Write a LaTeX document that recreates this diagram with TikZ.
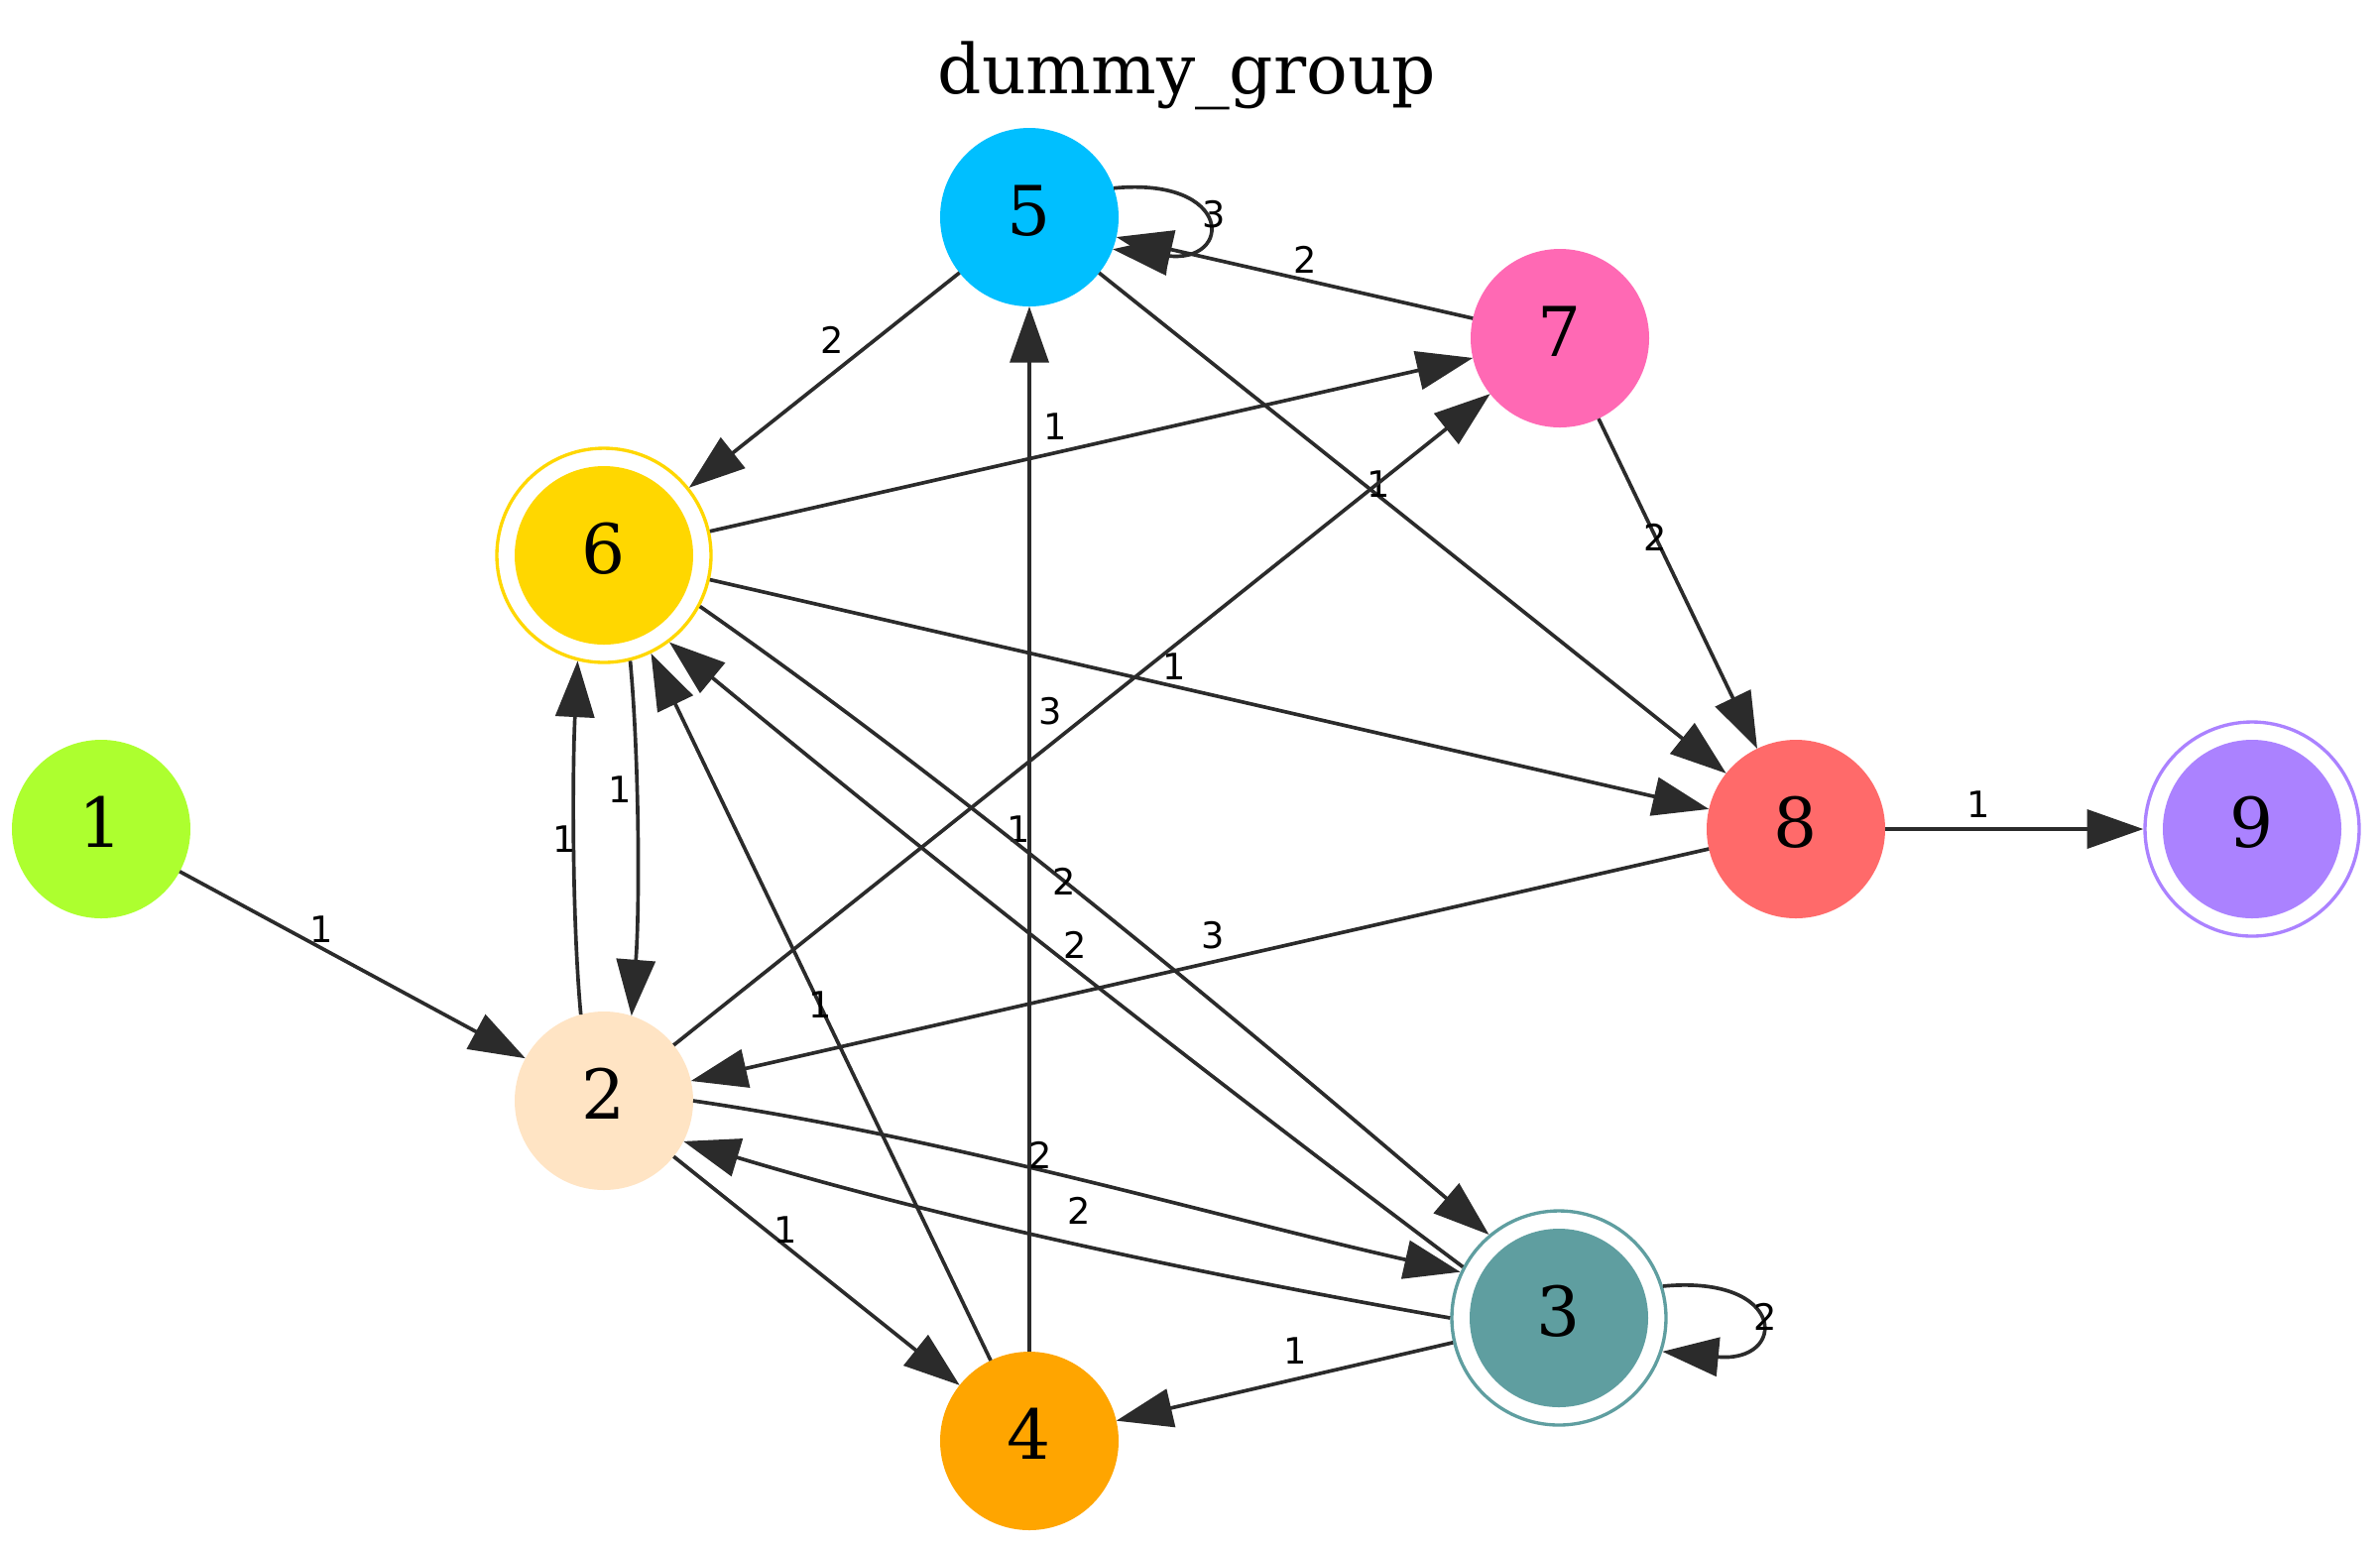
\documentclass[tikz,border=0pt]{standalone}
\usepackage{fontspec}
\setmainfont{DejaVu Serif}
\newfontfamily\lblfont{DejaVu Sans}
\usetikzlibrary{arrows.meta}
\definecolor{cA}{HTML}{ADFF2F}
\definecolor{cB}{HTML}{FFE4C4}
\definecolor{cC}{HTML}{5F9EA0}
\definecolor{cD}{HTML}{FFA500}
\definecolor{cE}{HTML}{00BFFF}
\definecolor{cF}{HTML}{FFD700}
\definecolor{cG}{HTML}{FF69B4}
\definecolor{cH}{HTML}{FF6A6A}
\definecolor{cI}{HTML}{AB82FF}
\definecolor{edgec}{HTML}{2B2B2B}
\begin{document}
\begin{tikzpicture}[x=0.3pt,y=-0.3pt,
  vtx/.style={circle, minimum size=54pt, inner sep=0pt, outer sep=0pt, fill=#1,
    font=\fontsize{20.8}{25}\selectfont, text depth=4.2pt},
  dbl/.style={circle, minimum size=64.8pt, inner sep=0pt, outer sep=0.5pt, draw=#1,
    line width=1pt, fill=white, font=\fontsize{20.8}{25}\selectfont, text depth=4.2pt,
    path picture={\fill[#1] (path picture bounding box.center) circle[radius=27pt];}},
  conn/.style={draw=edgec, line width=1.1pt, -{Triangle[length=17pt,width=11.7pt]}},
  lbl/.style={font=\lblfont\fontsize{11}{13}\selectfont, inner sep=0pt, text=black}
]
\useasboundingbox (0,0) rectangle (2400,1561);

\node[font=\fontsize{20.8}{25}\selectfont, anchor=base] (title) at (1197,94) {dummy\_group};

\node[vtx=cA] (n1) at (102,836) {1};
\node[vtx=cB] (n2) at (609,1110) {2};
\node[dbl=cC] (n3) at (1572,1329) {3};
\node[vtx=cD] (n4) at (1038,1453) {4};
\node[vtx=cE] (n5) at (1038,219) {5};
\node[dbl=cF] (n6) at (609,560) {6};
\node[vtx=cG] (n7) at (1573,341) {7};
\node[vtx=cH] (n8) at (1811,836) {8};
\node[dbl=cI] (n9) at (2271,836) {9};

\draw[conn] (n1) -- (n2) node[lbl,at={(324,937)}]{1};
\draw[conn] (n2.105) .. controls (577,930) and (577,780) .. (n6.-104) node[lbl,at={(569,846)}]{1};
\draw[conn] (n6.-76) .. controls (645,770) and (645,920) .. (n2.72) node[lbl,at={(625,796)}]{1};
\draw[conn] (n5) -- (n6) node[lbl,at={(839,343)}]{2};
\draw[conn] (n5.19) .. controls (1244,178) and (1244,266) .. (n5.-21) node[lbl,at={(1224,216)}]{3};
\draw[conn] (n7) -- (n5) node[lbl,at={(1316,262)}]{2};
\draw[conn] (n6) -- (n7) node[lbl,at={(1064,430)}]{1};
\draw[conn] (n5) -- (n8) node[lbl,at={(1390,488)}]{1};
\draw[conn] (n7) -- (n8) node[lbl,at={(1669,542)}]{2};
\draw[conn] (n2) -- (n7) node[lbl,at={(1059,717)}]{3};
\draw[conn] (n6) -- (n8) node[lbl,at={(1184,672)}]{1};
\draw[conn] (n4) -- (n5) node[lbl,at={(1027,836)}]{1};
\draw[conn] (n6.-28) .. controls (967,794) and (1246,1027) .. (n3.130) node[lbl,at={(1073,889)}]{2};
\draw[conn] (n3.152) .. controls (1208,1077) and (943,869) .. (n6.-53) node[lbl,at={(1084,953)}]{2};
\draw[conn] (n8) -- (n2) node[lbl,at={(1223,943)}]{3};
\draw[conn] (n4) -- (n6) node[lbl,at={(827,1013)}]{1};
\draw[conn] (n2.0) .. controls (960,1148) and (1230,1228) .. (n3.155) node[lbl,at={(1049,1165)}]{2};
\draw[conn] (n3.180) .. controls (1205,1284) and (945,1228) .. (n2.-27) node[lbl,at={(1088,1221)}]{2};
\draw[conn] (n2) -- (n4) node[lbl,at={(792,1240)}]{1};
\draw[conn] (n3) -- (n4) node[lbl,at={(1306,1362)}]{1};
\draw[conn] (n3.17) .. controls (1803,1285) and (1803,1375) .. (n3.-18) node[lbl,at={(1780,1328)}]{2};
\draw[conn] (n8) -- (n9) node[lbl,at={(1995,811)}]{1};
\end{tikzpicture}
\end{document}
